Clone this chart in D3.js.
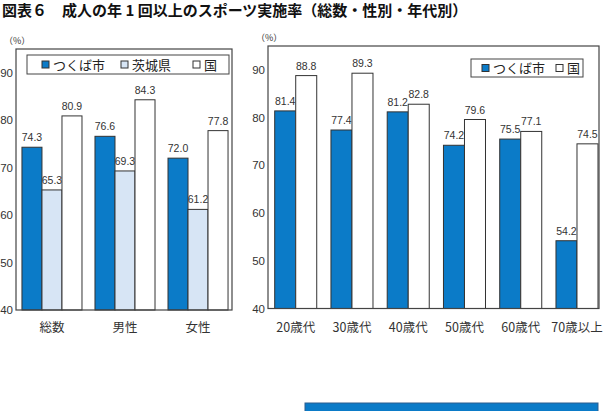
<!DOCTYPE html>
<html>
<head>
<meta charset="utf-8">
<script src="https://cdn.jsdelivr.net/npm/d3@7"></script>
<style>
  body { margin: 0; background: #fff; }
  svg text { font-family: "Liberation Sans", Arial, sans-serif; }
  .jp { font-family: "Noto Sans CJK JP", sans-serif; }
</style>
</head>
<body>
<svg id="chart" width="609" height="411"></svg>
<script>
// data
const sexCats = ["総数", "男性", "女性"];
const sexTsukuba = [74.3, 76.6, 72.0];
const sexIbaraki = [65.3, 69.3, 61.2];
const sexNation = [80.9, 84.3, 77.8];

const ageCats = ["20歳代", "30歳代", "40歳代", "50歳代", "60歳代", "70歳以上"];
const ageTsukuba = [81.4, 77.4, 81.2, 74.2, 75.5, 54.2];
const ageNation = [88.8, 89.3, 82.8, 79.6, 77.1, 74.5];

const yTicks = [40, 50, 60, 70, 80, 90];

const BLUE = "#0b7bc8", LIGHT = "#d7e5f5", WHITE = "#ffffff";
const STROKE = "#333", TEXT = "#333";

const svg = d3.select("#chart");
const fmt = d3.format(".1f");

svg.append("text")
    .attr("class", "jp")
    .attr("x", 2)
    .attr("y", 16)
    .attr("font-size", 15)
    .attr("font-weight", "bold")
    .attr("fill", "#111")
    .text("図表６　成人の年 1 回以上のスポーツ実施率（総数・性別・年代別）");

function panel(cfg) {
  const g = svg.append("g");
  const y = d3.scaleLinear().domain([40, 95]).range([cfg.bottom, cfg.top]);
  const x0 = d3.scaleBand().domain(cfg.cats).range([cfg.left, cfg.right])
      .paddingInner(cfg.pin).paddingOuter(cfg.pout).align(cfg.align);
  const x1 = d3.scaleBand().domain(d3.range(cfg.series.length))
      .range([0, x0.bandwidth()]);

  const rows = [];
  cfg.series.forEach((s, si) => {
    s.values.forEach((v, i) => rows.push({ cat: cfg.cats[i], si, v, fill: s.fill }));
  });

  // labels sit under the bars so neighbours clip them like the original
  g.append("g").selectAll("text").data(rows).join("text")
      .attr("x", d => x0(d.cat) + x1(d.si) + x1.bandwidth() / 2)
      .attr("y", d => y(d.v) - 6)
      .attr("text-anchor", "middle")
      .attr("font-size", 10.5)
      .attr("fill", TEXT)
      .text(d => fmt(d.v));

  g.append("g").selectAll("rect").data(rows).join("rect")
      .attr("x", d => x0(d.cat) + x1(d.si))
      .attr("y", d => y(d.v))
      .attr("width", x1.bandwidth())
      .attr("height", d => y(40) - y(d.v))
      .attr("fill", d => d.fill)
      .attr("stroke", STROKE)
      .attr("stroke-width", 1);

  // plot frame
  g.append("rect")
      .attr("x", cfg.left).attr("y", cfg.top)
      .attr("width", cfg.right - cfg.left).attr("height", cfg.bottom - cfg.top)
      .attr("fill", "none").attr("stroke", "#444").attr("stroke-width", 1.2);

  g.append("g").selectAll("text").data(yTicks).join("text")
      .attr("x", cfg.left - 3)
      .attr("y", d => y(d) + 4)
      .attr("text-anchor", "end")
      .attr("font-size", 11.5)
      .attr("fill", TEXT)
      .text(d => d);

  g.append("text")
      .attr("class", "jp")
      .attr("x", cfg.left - 12)
      .attr("y", cfg.top - 5)
      .attr("font-size", 9)
      .attr("fill", TEXT)
      .text("（%）");

  g.append("g").selectAll("text").data(cfg.cats).join("text")
      .attr("class", "jp")
      .attr("x", d => x0(d) + x0.bandwidth() / 2)
      .attr("y", 332)
      .attr("text-anchor", "middle")
      .attr("font-size", 12.5)
      .attr("fill", TEXT)
      .text(d => d);

  // legend
  const lg = g.append("g");
  lg.append("rect")
      .attr("x", cfg.legend.x).attr("y", cfg.legend.y)
      .attr("width", cfg.legend.w).attr("height", cfg.legend.h)
      .attr("fill", "#fff").attr("stroke", "#444").attr("stroke-width", 1);
  cfg.series.forEach((s, si) => {
    const lx = cfg.legend.items[si];
    const cy = cfg.legend.y + cfg.legend.h / 2;
    lg.append("rect")
        .attr("x", lx).attr("y", cy - 3.5)
        .attr("width", 7).attr("height", 7)
        .attr("fill", s.fill).attr("stroke", STROKE).attr("stroke-width", 1);
    lg.append("text")
        .attr("class", "jp")
        .attr("x", lx + 11).attr("y", cy + 5)
        .attr("font-size", 13)
        .attr("fill", "#222")
        .text(s.name);
  });
}

panel({
  cats: sexCats,
  series: [
    { name: "つくば市", values: sexTsukuba, fill: BLUE },
    { name: "茨城県", values: sexIbaraki, fill: LIGHT },
    { name: "国", values: sexNation, fill: WHITE }
  ],
  left: 16, right: 232, top: 49, bottom: 310,
  pin: 0.178, pout: 0.068, align: 0.6,
  legend: { x: 27, y: 55, w: 202, h: 19, items: [42, 121, 193] }
});

panel({
  cats: ageCats,
  series: [
    { name: "つくば市", values: ageTsukuba, fill: BLUE },
    { name: "国", values: ageNation, fill: WHITE }
  ],
  left: 268, right: 599, top: 46, bottom: 308.5,
  pin: 0.253, pout: 0.0685, align: 0.87,
  legend: { x: 471, y: 59, w: 112, h: 18, items: [482, 556] }
});

// start of the next section, cut off at the bottom edge
svg.append("rect")
    .attr("x", 305).attr("y", 403)
    .attr("width", 293).attr("height", 12)
    .attr("fill", BLUE).attr("stroke", "#2d5f8f").attr("stroke-width", 1);
</script>
</body>
</html>
